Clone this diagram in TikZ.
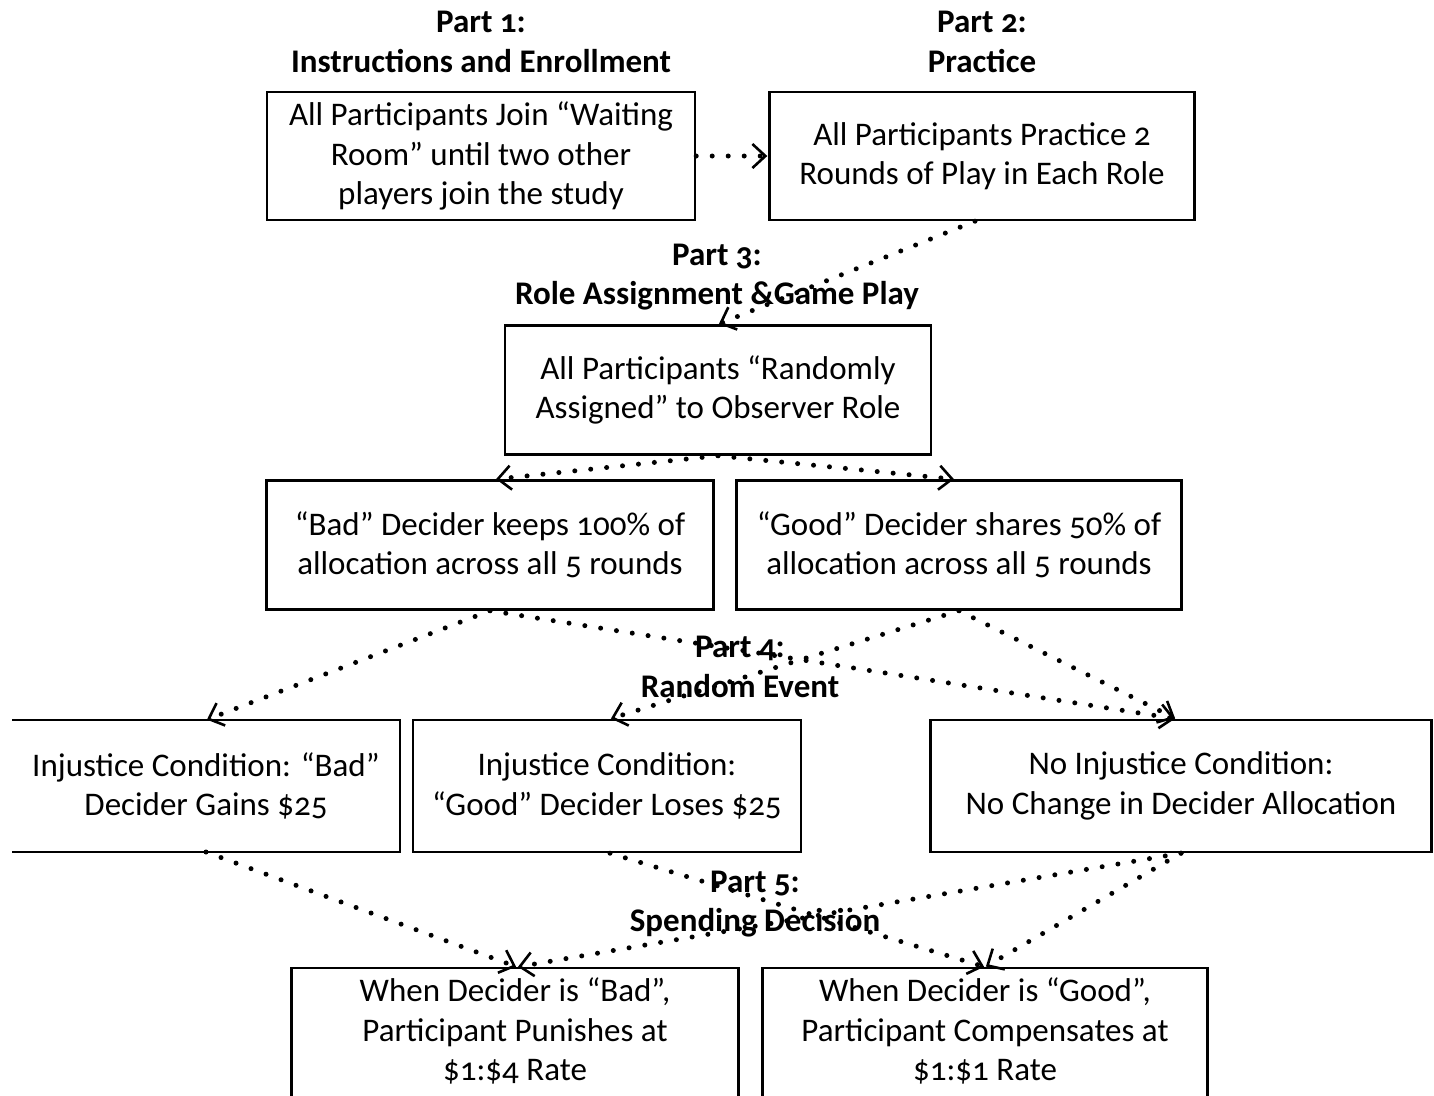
\documentclass[tikz,border=0pt]{standalone}
\usepackage{fontspec}
\setmainfont{Carlito}[Numbers=OldStyle]
\usetikzlibrary{arrows.meta}
\begin{document}
\begin{tikzpicture}[x=1pt,y=-1pt,
  box/.style={draw=black,line width=2.4pt,align=center,inner sep=0pt,
    font=\fontsize{33}{39.5}\selectfont},
  lbl/.style={align=center,inner sep=0pt,font=\bfseries\fontsize{33}{39.5}\selectfont},
  conn/.style={line width=5pt,line cap=round,dash pattern=on 0pt off 16pt,
    -{Straight Barb[length=13pt,width=24pt,line width=2.6pt]},shorten >=1pt}]
\useasboundingbox (0,0) rectangle (1434,1095);
\fill[white] (0,0) rectangle (1434,1095);
% labels
\node[lbl] (l1) at (481,42) {Part 1:\\Instructions and Enrollment};
\node[lbl] (l2) at (982,42) {Part 2:\\Practice};
\node[lbl] (l3) at (717,277) {Part 3:\\Role Assignment \&Game Play};
\node[lbl] (l4) at (740,667) {Part 4:\\Random Event};
\node[lbl] (l5) at (755,904) {Part 5:\\Spending Decision};
% boxes
\node[box,minimum width=428pt,minimum height=128pt] (b1) at (481,156)
  {All Participants Join “Waiting\\Room” until two other\\players join the study};
\node[box,minimum width=425pt,minimum height=128pt] (b2) at (982,156)
  {All Participants Practice 2\\Rounds of Play in Each Role};
\node[box,minimum width=426pt,minimum height=129pt] (b3) at (718,390)
  {All Participants “Randomly\\Assigned” to Observer Role};
\node[box,minimum width=447pt,minimum height=129pt] (b4) at (490,545)
  {“Bad” Decider keeps 100\% of\\allocation across all 5 rounds};
\node[box,minimum width=445pt,minimum height=129pt] (b5) at (959,545)
  {“Good” Decider shares 50\% of\\allocation across all 5 rounds};
\begin{scope}
\clip (12,700) rectangle (420,870);
\node[box,minimum width=408pt,minimum height=132pt] (b6) at (196,786)
  {};
\end{scope}
\node[align=center,inner sep=0pt,font=\fontsize{33}{39.5}\selectfont] (t6) at (206,786)
  {Injustice Condition: “Bad”\\Decider Gains \$25};
\node[box,minimum width=388pt,minimum height=132pt] (b7) at (607,786)
  {Injustice Condition:\\“Good” Decider Loses \$25};
\node[box,minimum width=501pt,minimum height=132pt] (b8) at (1181,786)
  {No Injustice Condition:\\No Change in Decider Allocation};
\node[box,minimum width=447pt,minimum height=160pt,anchor=north] (b9) at (515,967)
  {\rule{0pt}{27pt}When Decider is “Bad”,\\Participant Punishes at\\\$1:\$4 Rate\\[1pt]};
\node[box,minimum width=445pt,minimum height=160pt,anchor=north] (b10) at (985,967)
  {\rule{0pt}{27pt}When Decider is “Good”,\\Participant Compensates at\\\$1:\$1 Rate\\[1pt]};
% connectors
\draw[conn] (b1.east) -- (b2.west);
\draw[conn] ([xshift=-7pt]b2.south) -- (b3.north);
\draw[conn] (b3.south) -- ([xshift=5pt]b4.north);
\draw[conn] (b3.south) -- ([xshift=-4pt]b5.north);
\draw[conn] (b4.south) -- (206,720);
\draw[conn] (b4.south) -- ([xshift=-5pt]b8.north);
\draw[conn] (b5.south) -- ([xshift=3pt]b7.north);
\draw[conn] (b5.south) -- ([xshift=-5pt]b8.north);
\draw[conn] (206,852) -- ([xshift=2pt]b9.north);
\draw[conn] ([xshift=3pt]b7.south) -- (b10.north);
\draw[conn] (b8.south) -- ([xshift=2pt]b9.north);
\draw[conn] (b8.south) -- (b10.north);
\end{tikzpicture}
\end{document}
